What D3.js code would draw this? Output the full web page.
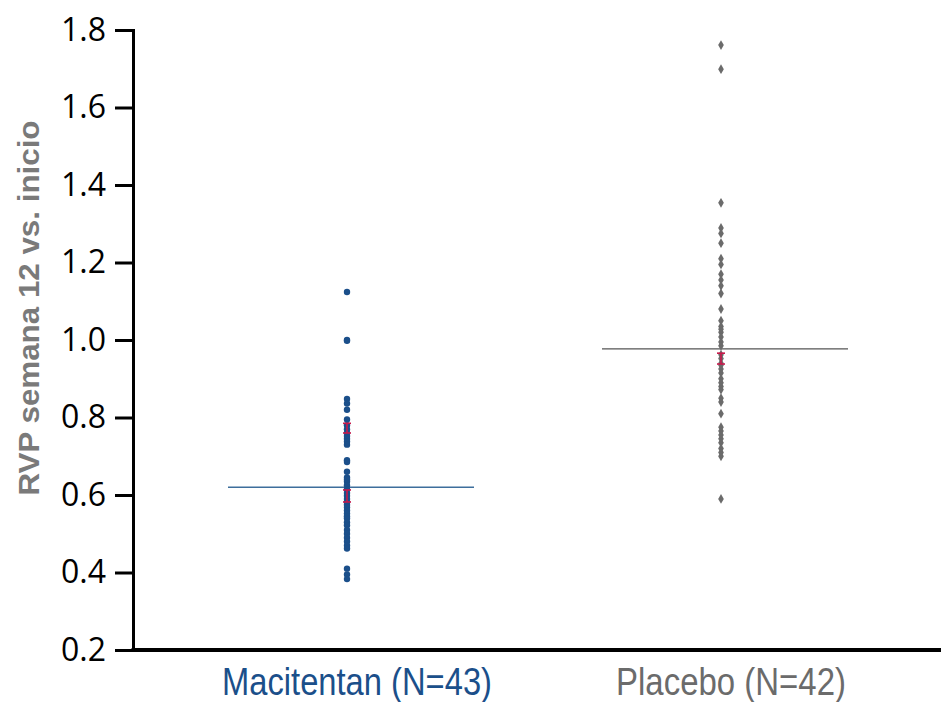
<!DOCTYPE html>
<html lang="es">
<head>
  <meta charset="UTF-8">
  <title>RVP semana 12</title>
  <script src="https://cdn.jsdelivr.net/npm/d3@7"></script>
  <style>
  body{
    margin: 0;
    background: #fff;
  }
  .ticklab{
    font-family: 'Open Sans', sans-serif;
    font-size: 32px;
    fill: #000;
  }
  .catlab{
    font-family: 'Liberation Sans', sans-serif;
    font-size: 38px;
  }
  .ylab{
    font-family: 'Liberation Sans', sans-serif;
    font-weight: 700;
    font-size: 30px;
    fill: #7a7a7a;
  }
  </style>
</head>
<body>
  <div id="grafico"></div>

  <script>
    // datos
    var categorias = ['Macitentan (N=43)', 'Placebo (N=42)'];
    var macitentan = [1.124, 1.0, 0.998, 0.848, 0.836, 0.82, 0.795, 0.78, 0.77, 0.76, 0.752, 0.745, 0.738, 0.73,
      0.69, 0.685, 0.66, 0.645, 0.635, 0.625, 0.615, 0.605, 0.598, 0.59, 0.582, 0.575, 0.568, 0.56, 0.552,
      0.545, 0.54, 0.53, 0.522, 0.51, 0.50, 0.49, 0.48, 0.47, 0.462, 0.41, 0.395, 0.383, 0.64];
    var placebo = [1.761, 1.699, 1.354, 1.289, 1.275, 1.25, 1.21, 1.195, 1.17, 1.155, 1.14, 1.12, 1.08, 1.05,
      1.035, 1.02, 1.008, 0.995, 0.985, 0.962, 0.952, 0.94, 0.925, 0.915, 0.9, 0.88, 0.872, 0.85, 0.84, 0.81,
      0.775, 0.765, 0.745, 0.735, 0.72, 0.71, 0.70, 0.59, 1.028, 0.89, 0.935, 0.755];
    var medias = [0.62, 0.977];
    // barras rojas (grupo, bajo, alto)
    var errGrupo = [0, 0, 1];
    var errBajo = [0.76, 0.582, 0.938];
    var errAlto = [0.785, 0.613, 0.966];
    var yTicks = [0.2, 0.4, 0.6, 0.8, 1.0, 1.2, 1.4, 1.6, 1.8];

    var w = 941;
    var h = 702;
    var colores = ['#1b4f8a', '#6b6b6b'];
    var colorLinea = ['#3d6e9c', '#555555'];
    var colorTexto = ['#1b4f8a', '#6b6b6b'];
    var anchoTexto = [270, 230];

    var svg = d3.select("#grafico")
      .append("svg")
      .attr("width", w)
      .attr("height", h);

    //Escalas
    var yScale = d3.scaleLinear()
      .domain([0.2, 1.8])
      .range([650, 30]);

    var xScale = d3.scalePoint()
      .domain(categorias)
      .range([347, 721]);

    //Eje Y
    var yAxis = d3.axisLeft(yScale)
      .tickValues(yTicks)
      .tickSize(18)
      .tickPadding(9)
      .tickFormat(d3.format(".1f"));

    var ejeY = svg.append("g")
      .attr("transform", "translate(133,0)")
      .call(yAxis);
    ejeY.select(".domain").attr("stroke", "#000").attr("stroke-width", 3);
    ejeY.selectAll(".tick line").attr("stroke", "#000").attr("stroke-width", 3);
    ejeY.selectAll(".tick text").attr("class", "ticklab").attr("font-size", null).attr("font-family", null);

    //Eje X (solo la linea)
    svg.append("line")
      .attr("x1", 131.5)
      .attr("x2", w)
      .attr("y1", yScale(0.2))
      .attr("y2", yScale(0.2))
      .attr("stroke", "#000")
      .attr("stroke-width", 4);

    //Etiquetas de categorias (letra estrecha)
    svg.selectAll(".catlab")
      .data(categorias)
      .enter()
      .append("text")
      .attr("class", "catlab")
      .attr("x", function(d){ return xScale(d) + 10; })
      .attr("y", 695)
      .attr("text-anchor", "middle")
      .attr("textLength", function(d,i){ return anchoTexto[i]; })
      .attr("lengthAdjust", "spacingAndGlyphs")
      .attr("fill", function(d,i){ return colorTexto[i]; })
      .text(function(d){ return d; });

    //Titulo eje Y
    svg.append("text")
      .attr("class", "ylab")
      .attr("transform", "translate(39,308) rotate(-90)")
      .attr("text-anchor", "middle")
      .attr("textLength", 375)
      .attr("lengthAdjust", "spacingAndGlyphs")
      .text("RVP semana 12 vs. inicio");

    //Lineas de media
    svg.selectAll(".media")
      .data(medias)
      .enter()
      .append("line")
      .attr("class", "media")
      .attr("x1", function(d,i){ return xScale(categorias[i]) - 119; })
      .attr("x2", function(d,i){ return xScale(categorias[i]) + 127; })
      .attr("y1", function(d){ return yScale(d); })
      .attr("y2", function(d){ return yScale(d); })
      .attr("stroke", function(d,i){ return colorLinea[i]; })
      .attr("stroke-width", 1.3);

    //Puntos Macitentan
    svg.selectAll(".pmac")
      .data(macitentan)
      .enter()
      .append("circle")
      .attr("class", "pmac")
      .attr("cx", xScale(categorias[0]))
      .attr("cy", function(d){ return yScale(d); })
      .attr("r", 3.2)
      .attr("fill", colores[0]);

    //Puntos Placebo
    var diamante = d3.symbol().type(d3.symbolDiamond).size(28);
    svg.selectAll(".pplac")
      .data(placebo)
      .enter()
      .append("path")
      .attr("class", "pplac")
      .attr("d", diamante)
      .attr("transform", function(d){
        return "translate(" + xScale(categorias[1]) + "," + yScale(d) + ")"; })
      .attr("fill", colores[1]);

    //Barras rojas
    var err = svg.selectAll(".err")
      .data(errGrupo)
      .enter()
      .append("g")
      .attr("class", "err")
      .attr("stroke", "#c8194b")
      .attr("stroke-width", 1.6);
    err.append("line")
      .attr("x1", function(d){ return xScale(categorias[d]); })
      .attr("x2", function(d){ return xScale(categorias[d]); })
      .attr("y1", function(d,i){ return yScale(errBajo[i]); })
      .attr("y2", function(d,i){ return yScale(errAlto[i]); });
    err.append("line")
      .attr("x1", function(d){ return xScale(categorias[d]) - 4; })
      .attr("x2", function(d){ return xScale(categorias[d]) + 4; })
      .attr("y1", function(d,i){ return yScale(errBajo[i]); })
      .attr("y2", function(d,i){ return yScale(errBajo[i]); });
    err.append("line")
      .attr("x1", function(d){ return xScale(categorias[d]) - 4; })
      .attr("x2", function(d){ return xScale(categorias[d]) + 4; })
      .attr("y1", function(d,i){ return yScale(errAlto[i]); })
      .attr("y2", function(d,i){ return yScale(errAlto[i]); });
  </script>
</body>
</html>
